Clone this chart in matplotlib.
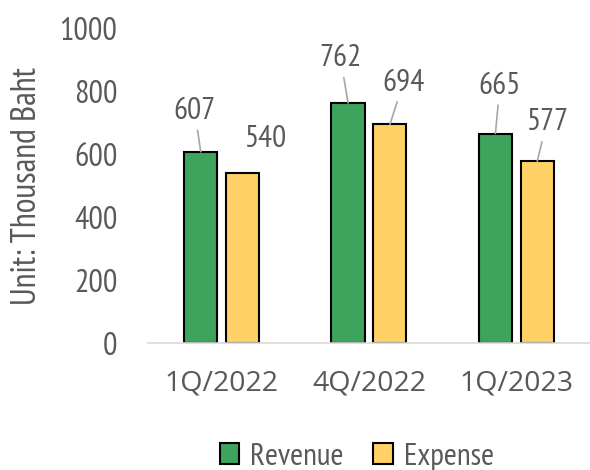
import numpy as np
import matplotlib
matplotlib.use("Agg")
import matplotlib.pyplot as plt

# data
categories = ["1Q/2022", "4Q/2022", "1Q/2023"]
revenue = [607, 762, 665]
expense = [540, 694, 577]
series_names = ["Revenue", "Expense"]

# label offsets (pixels) from bar top to label centre, and whether a leader line shows
rev_offsets = [(-6, 41), (-7.5, 45), (4.5, 48)]
exp_offsets = [(22.5, 34), (13.5, 42), (9.5, 39)]
rev_leader = [True, True, True]
exp_leader = [False, True, True]

GREEN = "#3DA35D"
YELLOW = "#FFD166"
TEXT = "#595959"
NARROW = ["PT Sans Narrow", "DejaVu Sans"]
WIDE = ["Open Sans", "DejaVu Sans"]


def label_bars(ax, xs, vals, offsets, leaders):
    for x, v, off, lead in zip(xs, vals, offsets, leaders):
        props = None
        if lead:
            props = dict(arrowstyle="-", color="#A6A6A6", lw=1.2, shrinkA=2, shrinkB=0)
        ax.annotate(str(v), xy=(x, v), xytext=off, textcoords="offset pixels",
                    ha="center", va="center", fontsize=22.5, color=TEXT,
                    family=NARROW, fontstretch="condensed", fontweight="normal",
                    arrowprops=props)


def main():
    fig = plt.figure(figsize=(5.9, 4.7), dpi=100)
    ax = fig.add_axes([0.2508, 0.2702, 0.7492, 0.6702])

    x = np.arange(len(categories))
    w = 0.225
    b1 = ax.bar(x - 0.142, revenue, w, color=GREEN, edgecolor="black", linewidth=1.5,
                label=series_names[0])
    b2 = ax.bar(x + 0.142, expense, w, color=YELLOW, edgecolor="black", linewidth=1.5,
                label=series_names[1])

    label_bars(ax, x - 0.142, revenue, rev_offsets, rev_leader)
    label_bars(ax, x + 0.142, expense, exp_offsets, exp_leader)

    ax.set_xlim(-0.5, 2.5)
    ax.set_ylim(0, 1000)
    ax.set_yticks(np.arange(0, 1001, 200))
    ax.set_xticks(x)
    ax.set_xticklabels(categories, fontsize=20.5, color=TEXT, family=WIDE)
    for t in ax.get_yticklabels():
        t.set_fontsize(23)
        t.set_color(TEXT)
        t.set_family(NARROW)
        t.set_fontstretch("condensed")
        t.set_fontweight("normal")
    ax.tick_params(axis="y", length=0, pad=22)
    ax.tick_params(axis="x", length=0, pad=19)

    for s in ["top", "right", "left"]:
        ax.spines[s].set_visible(False)
    ax.spines["bottom"].set_color("#D9D9D9")
    ax.spines["bottom"].set_linewidth(1.2)

    ax.set_ylabel("Unit: Thousand Baht", fontsize=24.5, color=TEXT, family=NARROW,
                  fontstretch="condensed", fontweight="normal")
    ax.yaxis.set_label_coords(-0.2376, 0.5)

    fig.legend(handles=[b1, b2], loc="center", bbox_to_anchor=(0.605, 0.028), ncol=2,
               frameon=False, handlelength=0.62, handleheight=0.65, handletextpad=0.35,
               columnspacing=0.95,
               prop={"family": NARROW, "size": 22.5, "stretch": "condensed", "weight": "normal"},
               labelcolor=TEXT)

    fig.savefig("out.png", dpi=100)


if __name__ == "__main__":
    main()
